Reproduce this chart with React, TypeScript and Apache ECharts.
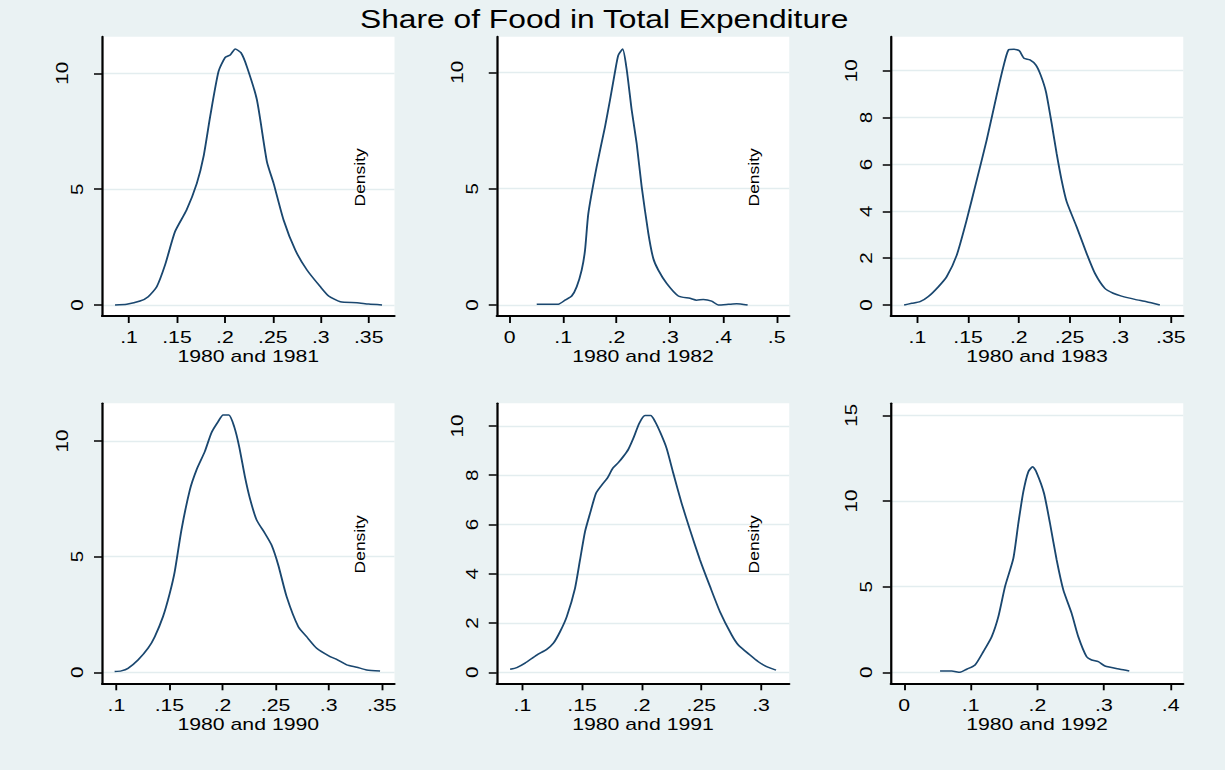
import React, { useEffect, useRef } from 'react';
import * as echarts from 'echarts';

const TITLE = 'Share of Food in Total Expenditure';
const PANEL_LABELS = ['1980 and 1981', '1980 and 1982', '1980 and 1983', '1980 and 1990', '1980 and 1991', '1980 and 1992'];
const Y_NAME = 'Density';

const X_TICKS_A = [0.1, 0.15, 0.2, 0.25, 0.3, 0.35];
const X_TICKS_B = [0, 0.1, 0.2, 0.3, 0.4, 0.5];
const X_TICKS_C = [0.1, 0.15, 0.2, 0.25, 0.3];
const X_TICKS_D = [0, 0.1, 0.2, 0.3, 0.4];
const Y_TICKS_5 = [0, 5, 10];
const Y_TICKS_2 = [0, 2, 4, 6, 8, 10];
const Y_TICKS_15 = [0, 5, 10, 15];

const density1981 = [[0.0854, 0], [0.0976, 0.03], [0.1115, 0.17], [0.12, 0.36], [0.1289, 0.79], [0.1376, 1.73], [0.148, 3.17], [0.16, 4.1], [0.1707, 5.25], [0.1777, 6.4], [0.1846, 8.13], [0.1933, 10.07], [0.2003, 10.69], [0.2055, 10.79], [0.2108, 11.05], [0.2167, 10.89], [0.2229, 10.29], [0.2334, 8.85], [0.2438, 6.19], [0.2508, 5.25], [0.2612, 3.67], [0.2734, 2.37], [0.2856, 1.51], [0.2995, 0.79], [0.3082, 0.39], [0.3204, 0.14], [0.3378, 0.1], [0.35, 0.04], [0.3639, 0]];
const density1982 = [[0.0506, 0.03], [0.0693, 0.04], [0.0911, 0.04], [0.1036, 0.21], [0.1161, 0.39], [0.1255, 0.79], [0.1348, 1.5], [0.1411, 2.36], [0.1473, 3.94], [0.1629, 5.95], [0.1785, 7.66], [0.1879, 8.81], [0.1973, 10.03], [0.2035, 10.74], [0.2116, 11.0], [0.2191, 10.13], [0.2285, 8.38], [0.2378, 6.95], [0.2472, 5.09], [0.2597, 3.08], [0.269, 2.0], [0.2784, 1.5], [0.294, 0.93], [0.3159, 0.39], [0.3377, 0.29], [0.3502, 0.21], [0.3627, 0.24], [0.3783, 0.17], [0.3908, 0], [0.4095, 0.03], [0.4251, 0.06], [0.4457, 0]];
const density1983 = [[0.0869, 0], [0.0944, 0.07], [0.1026, 0.14], [0.1108, 0.36], [0.1207, 0.78], [0.1289, 1.21], [0.1388, 2.13], [0.1486, 3.63], [0.1585, 5.33], [0.1683, 7.04], [0.1782, 8.96], [0.1848, 10.17], [0.1897, 10.88], [0.1953, 10.91], [0.2005, 10.85], [0.2051, 10.53], [0.211, 10.46], [0.2169, 10.24], [0.2215, 9.82], [0.2268, 9.1], [0.2324, 7.75], [0.2373, 6.47], [0.2422, 5.33], [0.2472, 4.41], [0.257, 3.34], [0.2669, 2.2], [0.2751, 1.35], [0.2849, 0.71], [0.2931, 0.5], [0.3013, 0.38], [0.3145, 0.24], [0.326, 0.14], [0.3391, 0]];
const density1990 = [[0.0984, 0.03], [0.1047, 0.06], [0.111, 0.17], [0.1204, 0.53], [0.1299, 1.04], [0.1362, 1.54], [0.144, 2.41], [0.1503, 3.41], [0.155, 4.35], [0.1613, 6.15], [0.1692, 7.88], [0.1755, 8.75], [0.1833, 9.54], [0.1896, 10.36], [0.1959, 10.84], [0.2006, 11.12], [0.206, 11.12], [0.211, 10.62], [0.2157, 9.76], [0.2211, 8.46], [0.2258, 7.52], [0.2321, 6.59], [0.2399, 6.01], [0.2462, 5.5], [0.2525, 4.64], [0.2604, 3.27], [0.2714, 1.97], [0.2792, 1.54], [0.2887, 1.04], [0.3013, 0.68], [0.3075, 0.56], [0.317, 0.32], [0.3264, 0.22], [0.3358, 0.1], [0.3484, 0.06]];
const density1991 = [[0.0897, 0.12], [0.0953, 0.19], [0.1022, 0.37], [0.112, 0.7], [0.1204, 0.93], [0.126, 1.18], [0.1316, 1.65], [0.1372, 2.26], [0.1441, 3.41], [0.1483, 4.56], [0.1525, 5.71], [0.1567, 6.45], [0.1617, 7.27], [0.1665, 7.6], [0.1712, 7.88], [0.1757, 8.28], [0.1804, 8.51], [0.1846, 8.76], [0.1888, 9.05], [0.193, 9.5], [0.198, 10.11], [0.2028, 10.42], [0.2075, 10.42], [0.2112, 10.18], [0.2159, 9.7], [0.2209, 9.09], [0.2265, 8.08], [0.2335, 6.86], [0.2405, 5.78], [0.2489, 4.56], [0.2573, 3.48], [0.2656, 2.46], [0.2754, 1.52], [0.281, 1.11], [0.2908, 0.7], [0.2978, 0.43], [0.3047, 0.23], [0.3126, 0.09]];
const density1992 = [[0.054, 0.08], [0.0715, 0.08], [0.084, 0], [0.094, 0.18], [0.1065, 0.43], [0.119, 1.21], [0.1315, 2.08], [0.1415, 3.25], [0.1515, 5.0], [0.164, 6.65], [0.1715, 8.7], [0.179, 10.54], [0.1865, 11.71], [0.193, 12.0], [0.199, 11.65], [0.21, 10.45], [0.219, 8.7], [0.229, 6.56], [0.239, 4.81], [0.2515, 3.44], [0.2615, 2.08], [0.274, 0.91], [0.2815, 0.72], [0.2915, 0.62], [0.3015, 0.37], [0.324, 0.18], [0.338, 0.08]];

const SERIES = [density1981, density1982, density1983, density1990, density1991, density1992];
const X_TICKS = [X_TICKS_A, X_TICKS_B, X_TICKS_A, X_TICKS_A, X_TICKS_C, X_TICKS_D];
const Y_TICKS = [Y_TICKS_5, Y_TICKS_5, Y_TICKS_2, Y_TICKS_5, Y_TICKS_2, Y_TICKS_15];
const X_RANGE = [[0.0718, 0.3769], [-0.0243, 0.5237], [0.0737, 0.3622], [0.0865, 0.362], [0.0785, 0.3237], [-0.02, 0.419]];
const Y_RANGE = [[-0.475, 11.58], [-0.47, 11.53], [-0.47, 11.45], [-0.476, 11.63], [-0.447, 10.92], [-0.64, 15.7]];

const FONT = "'Liberation Sans', Arial, sans-serif";
const BG = '#EAF2F3';
const LINE = '#1A476F';
const COL_LEFT = [81.6, 397.4, 712.6];
const ROW_TOP = [36.7, 403.3];
const ROW_H = [279.3, 280];
const PANEL_W = 234;
const STRETCH = 1.25;

const fmtX = (v: number) => {
  const s = String(Math.round(v * 1000) / 1000);
  return s.startsWith('0.') ? s.slice(1) : s;
};

// rotated text, stretched along its own baseline like the reference's font
const rotatedText = (text: string, x: number, y: number, fontSize: number) => ({
  type: 'text', x, y, rotation: Math.PI / 2, scaleX: STRETCH, scaleY: 1 / STRETCH, z: 100,
  style: { text, fontSize, fill: '#000', fontFamily: FONT, align: 'center', verticalAlign: 'middle' },
});

export default function App() {
  const ref = useRef<HTMLDivElement>(null);
  useEffect(() => {
    if (!ref.current) return;
    const chart = echarts.init(ref.current, undefined, { renderer: 'svg' });
    const grids: any[] = [];
    const xAxes: any[] = [];
    const yAxes: any[] = [];
    const series: any[] = [];
    SERIES.forEach((data, i) => {
      const c = i % 3;
      const r = Math.floor(i / 3);
      grids.push({
        left: COL_LEFT[c], top: ROW_TOP[r], width: PANEL_W, height: ROW_H[r],
        show: true, backgroundColor: '#ffffff', borderWidth: 0, containLabel: false,
      });
      xAxes.push({
        type: 'value', gridIndex: i, min: X_RANGE[i][0], max: X_RANGE[i][1],
        name: PANEL_LABELS[i], nameLocation: 'middle', nameGap: 32,
        nameTextStyle: { fontSize: 17, color: '#000', fontFamily: FONT },
        axisLine: { show: true, onZero: false, lineStyle: { color: '#000', width: 1.8 } },
        axisTick: { show: true, length: 7, customValues: X_TICKS[i], lineStyle: { color: '#000', width: 1.5 } },
        axisLabel: { customValues: X_TICKS[i], formatter: fmtX, margin: 13, fontSize: 17, color: '#000', fontFamily: FONT },
        splitLine: { show: false },
      });
      yAxes.push({
        type: 'value', gridIndex: i, min: Y_RANGE[i][0], max: Y_RANGE[i][1],
        axisLine: { show: true, onZero: false, lineStyle: { color: '#000', width: 1.8 } },
        axisTick: { show: true, length: 6.4, customValues: Y_TICKS[i], lineStyle: { color: '#000', width: 1.5 } },
        axisLabel: { show: false, customValues: Y_TICKS[i] },
        splitLine: { show: true, lineStyle: { color: '#E3EDEF', width: 1.3 } },
      });
      series.push({
        type: 'line', xAxisIndex: i, yAxisIndex: i, data, showSymbol: false, smooth: 0.2,
        lineStyle: { color: LINE, width: 1.5 }, silent: true,
      });
    });
    chart.setOption({
      animation: false,
      backgroundColor: BG,
      title: {
        text: TITLE, left: 288, top: 6.5, padding: 0,
        textStyle: { fontSize: 25.4, fontWeight: 'normal', color: '#000', fontFamily: FONT },
      },
      grid: grids,
      xAxis: xAxes,
      yAxis: yAxes,
      series,
    });

    // y tick labels placed through the axes' own scales
    const elements: any[] = [];
    SERIES.forEach((_, i) => {
      Y_TICKS[i].forEach((v) => {
        const p = chart.convertToPixel({ xAxisIndex: i, yAxisIndex: i } as any, [X_RANGE[i][0], v]) as number[];
        const off = String(v).length > 1 ? 31.7 : 19.5;
        elements.push(rotatedText(String(v), p[0] - off, p[1], 16.5));
      });
    });
    // "Density" titles (y titles of the neighbouring panels, as in the reference)
    [1, 2, 4, 5].forEach((i) => {
      const mid = (Y_RANGE[i][0] + Y_RANGE[i][1]) / 2;
      const p = chart.convertToPixel({ xAxisIndex: i, yAxisIndex: i } as any, [X_RANGE[i][0], mid]) as number[];
      elements.push(rotatedText(Y_NAME, p[0] - 109.4, p[1] + 1, 14));
    });
    chart.setOption({ graphic: { elements } });
    return () => chart.dispose();
  }, []);
  return (
    <div
      ref={ref}
      style={{
        position: 'absolute', left: 0, top: 0, width: 980, height: 770,
        transform: `scaleX(${STRETCH})`, transformOrigin: '0 0',
      }}
    />
  );
}
